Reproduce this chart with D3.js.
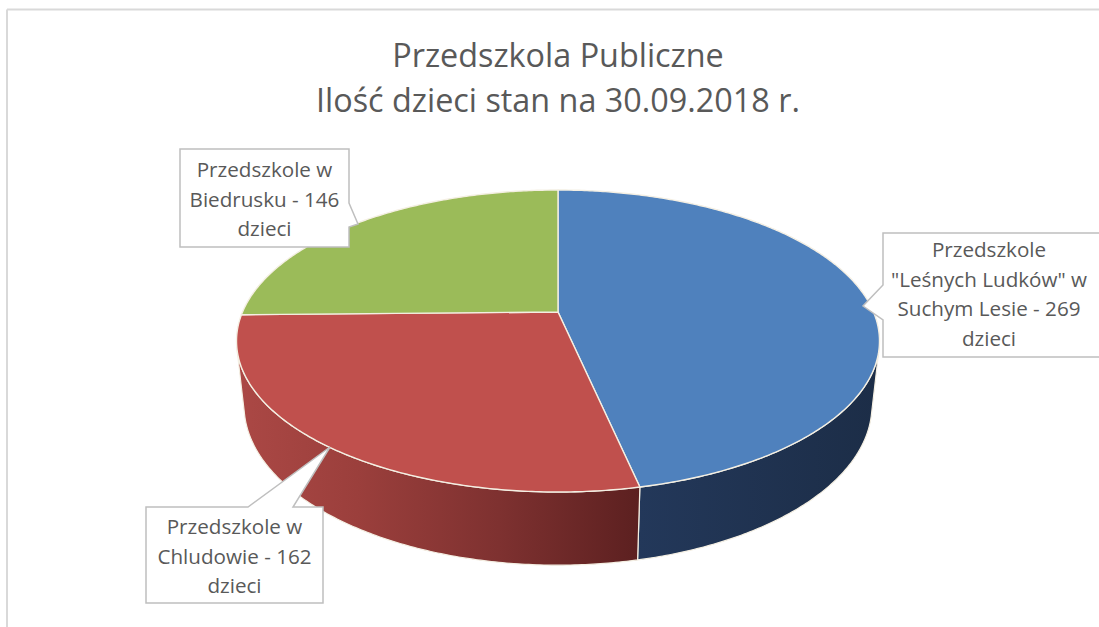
<!DOCTYPE html>
<html>
<head>
<meta charset="utf-8">
<script src="https://cdn.jsdelivr.net/npm/d3@7"></script>
<style>
  html, body { margin: 0; padding: 0; background: #ffffff; overflow: hidden; }
  svg { display: block; }
</style>
</head>
<body>
<svg id="chart" width="1099" height="627"></svg>
<script>
// ---------------- data ----------------
const categories = [
  "Przedszkole \"Leśnych Ludków\" w Suchym Lesie",
  "Przedszkole w Chludowie",
  "Przedszkole w Biedrusku"
];
const values = [269, 162, 146];
const labelNameLines = [
  ["Przedszkole", "\"Leśnych Ludków\" w", "Suchym Lesie"],
  ["Przedszkole w", "Chludowie"],
  ["Przedszkole w", "Biedrusku"]
];
const unitLabel = "dzieci";
const titleLines = ["Przedszkola Publiczne", "Ilość dzieci stan na 30.09.2018 r."];

// ---------------- style / layout ----------------
const topColors = ["#4f81bd", "#c0504d", "#9bbb59"];
const rimStops = [
  [["0%", "#23385a"], ["100%", "#1c2d47"]],
  [["0%", "#ab4845"], ["30%", "#9b3f3c"], ["65%", "#7e3130"], ["100%", "#5c2020"]],
  [["0%", "#7d9a46"], ["100%", "#5f7834"]]
];
const font = "'Open Sans', 'DejaVu Sans', sans-serif";
const textColor = "#595959";

const W = 1099, H = 627;
const cx = 558, cy = 312, S = 315.5;
const phi = 27.45 * Math.PI / 180, D = 4.62, depth = 0.232;
const sP = Math.sin(phi), cP = Math.cos(phi);

const svg = d3.select("#chart");

// frame
svg.append("line").attr("x1", 7).attr("x2", W).attr("y1", 9.5).attr("y2", 9.5)
  .attr("stroke", "#d9d9d9").attr("stroke-width", 2);
svg.append("line").attr("x1", 7).attr("x2", 7).attr("y1", 9.5).attr("y2", H)
  .attr("stroke", "#d9d9d9").attr("stroke-width", 2);

function fitSize(str, target) {
  const t = svg.append("text").attr("font-family", font).attr("font-size", 100).text(str);
  const w = t.node().getComputedTextLength();
  t.remove();
  return 100 * target / w;
}

// ---------------- title ----------------
const titleSize = fitSize(titleLines[1], 484);
svg.append("g").selectAll("text").data(titleLines).join("text")
  .attr("x", cx).attr("y", (d, i) => 67 + i * 45)
  .attr("text-anchor", "middle")
  .attr("font-family", font).attr("font-size", titleSize)
  .attr("fill", textColor).text(d => d);

// ---------------- 3D pie ----------------
function proj(theta, y) {
  const x = Math.sin(theta), z = -Math.cos(theta);
  const yc = z * sP - y * cP;
  const w = z * cP + y * sP;
  const k = D / (D - w);
  return [cx + S * x * k, cy + S * yc * k];
}
function arcPts(a0, a1, y) {
  const n = Math.max(2, Math.ceil(Math.abs(a1 - a0) / 0.01));
  return d3.range(n + 1).map(i => proj(a0 + (a1 - a0) * i / n, y));
}
const line = d3.line();

const pie = d3.pie().sort(null).value(d => d);
const arcs = pie(values);

// visible rim range: cos(theta) < -1/(D cosφ)
const lim = Math.acos(-1 / (D * cP));
const vis0 = lim, vis1 = 2 * Math.PI - lim;

const defs = svg.append("defs");
const gRim = svg.append("g");
const gTop = svg.append("g");

arcs.forEach((a, i) => {
  const t0 = Math.max(a.startAngle, vis0), t1 = Math.min(a.endAngle, vis1);
  if (t1 > t0) {
    const top = arcPts(t0, t1, 0);
    const bot = arcPts(t1, t0, -depth);
    const xs = top.concat(bot).map(p => p[0]);
    const gid = "rim" + i;
    const grad = defs.append("linearGradient").attr("id", gid)
      .attr("gradientUnits", "userSpaceOnUse")
      .attr("x1", d3.min(xs)).attr("x2", d3.max(xs)).attr("y1", 0).attr("y2", 0);
    rimStops[i].forEach(s => grad.append("stop").attr("offset", s[0]).attr("stop-color", s[1]));
    gRim.append("path")
      .attr("d", line(top.concat(bot)) + "Z")
      .attr("fill", `url(#${gid})`)
      .attr("stroke", "#f4efe3").attr("stroke-width", 1.2).attr("stroke-linejoin", "round");
  }
  const pts = [[cx, cy]].concat(arcPts(a.startAngle, a.endAngle, 0));
  gTop.append("path")
    .attr("d", line(pts) + "Z")
    .attr("fill", topColors[i])
    .attr("stroke", "#f4efe3").attr("stroke-width", 1.4).attr("stroke-linejoin", "round");
});

// ---------------- callout labels ----------------
const labelSize = fitSize("Biedrusku - 146", 150);
const callouts = [
  { box: [883, 233, 1110, 357], wedge: { side: "left", a: 285, b: 320, tip: [863, 306] }, tx: 989, ty: 257 },
  { box: [146, 507, 323, 603], wedge: { side: "top", a: 248, b: 293, tip: [330, 447] }, tx: 234.5, ty: 534 },
  { box: [180, 149, 349, 247], wedge: { side: "right", a: 203, b: 227, tip: [358, 224] }, tx: 264.5, ty: 177 }
];

function calloutPath(c) {
  const [x0, y0, x1, y1] = c.box, w = c.wedge;
  const p = d3.path();
  p.moveTo(x0, y0);
  if (w.side === "top") { p.lineTo(w.a, y0); p.lineTo(w.tip[0], w.tip[1]); p.lineTo(w.b, y0); }
  p.lineTo(x1, y0);
  if (w.side === "right") { p.lineTo(x1, w.a); p.lineTo(w.tip[0], w.tip[1]); p.lineTo(x1, w.b); }
  p.lineTo(x1, y1);
  p.lineTo(x0, y1);
  if (w.side === "left") { p.lineTo(x0, w.b); p.lineTo(w.tip[0], w.tip[1]); p.lineTo(x0, w.a); }
  p.closePath();
  return p.toString();
}

const gLab = svg.append("g");
arcs.forEach((a, i) => {
  const c = callouts[i];
  const names = labelNameLines[i];
  const lines = names.slice(0, -1).concat([names[names.length - 1] + " - " + a.data, unitLabel]);
  gLab.append("path").attr("d", calloutPath(c))
    .attr("fill", "#ffffff").attr("stroke", "#bfbfbf").attr("stroke-width", 1.5)
    .attr("stroke-linejoin", "miter");
  gLab.append("g").selectAll("text").data(lines).join("text")
    .attr("x", c.tx).attr("y", (d, j) => c.ty + j * 29.7)
    .attr("text-anchor", "middle")
    .attr("font-family", font).attr("font-size", labelSize)
    .attr("fill", textColor).text(d => d);
});
</script>
</body>
</html>
